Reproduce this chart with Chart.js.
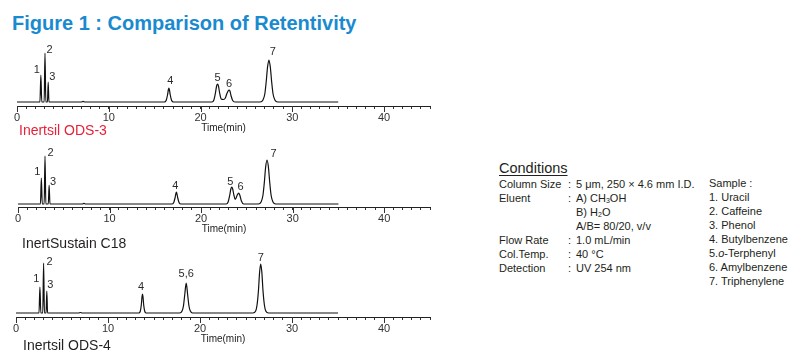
<!DOCTYPE html>
<html>
<head>
<meta charset="utf-8">
<script src="https://cdn.jsdelivr.net/npm/chart.js@4.4.1/dist/chart.umd.min.js"></script>
<style>
  html, body { margin:0; padding:0; background:#fff; }
  #root { position:relative; width:808px; height:356px; overflow:hidden; font-family:"Liberation Sans", Arial, sans-serif; color:#231f20; }
  canvas { position:absolute; left:0; }
  .t { position:absolute; white-space:nowrap; }
  .title { left:12px; top:10px; font-size:20px; font-weight:bold; color:#1a8ad0; line-height:26px; }
  .col { font-size:14px; line-height:18px; }
  .cond { font-size:11px; line-height:14px; color:#231f20; }
  sub { font-size:7px; vertical-align:-1px; line-height:0; }
</style>
</head>
<body>
<div id="root">
  <div class="t title">Figure 1 : Comparison of Retentivity</div>
  <canvas id="c0" width="440" height="98" style="top:36px"></canvas>
  <canvas id="c1" width="440" height="95" style="top:140px"></canvas>
  <canvas id="c2" width="440" height="95" style="top:250px"></canvas>
  <div class="t col" style="left:19px; top:121px; color:#e62139;">Inertsil ODS-3</div>
  <div class="t col" style="left:22px; top:234px;">InertSustain C18</div>
  <div class="t col" style="left:23px; top:336px;">Inertsil ODS-4</div>

  <div class="t" style="left:499px; top:159px; font-size:14.5px; line-height:18px; text-decoration:underline; text-underline-offset:2px;">Conditions</div>
  <div class="t cond" style="left:499px; top:177px;">Column Size<br>Eluent<br><br><br>Flow Rate<br>Col.Temp.<br>Detection</div>
  <div class="t cond" style="left:568px; top:177px;">:<br>:<br><br><br>:<br>:<br>:</div>
  <div class="t cond" style="left:576px; top:177px;">5 μm, 250 × 4.6 mm I.D.<br>A) CH<sub>3</sub>OH<br>B) H<sub>2</sub>O<br>A/B= 80/20, v/v<br>1.0 mL/min<br>40 °C<br>UV 254 nm</div>
  <div class="t cond" style="left:709px; top:176px;">Sample :<br>1. Uracil<br>2. Caffeine<br>3. Phenol<br>4. Butylbenzene<br>5.<i>o</i>-Terphenyl<br>6. Amylbenzene<br>7. Triphenylene</div>
</div>
<script>
// ---- data ----
const columns = ['Inertsil ODS-3', 'InertSustain C18', 'Inertsil ODS-4'];
const xTickValues = [0, 10, 20, 30, 40];
const xTickLabels = ['0', '10', '20', '30', '40'];

// Inertsil ODS-3 trace: time (min) / signal
const ods3Time = [0, 2.5, 2.6, 2.7, 2.96, 3.05, 3.14, 3.32, 3.4, 3.48, 7.0, 7.2, 7.4,
  16.05, 16.25, 16.4, 16.5, 16.55, 16.6, 16.7, 16.85, 17.05,
  21.25, 21.45, 21.62, 21.75, 21.85, 21.95, 22.08, 22.25,
  22.5, 22.7, 22.85, 23.0, 23.1, 23.2, 23.33, 23.5, 23.75,
  26.5, 26.8, 27.0, 27.15, 27.3, 27.45, 27.6, 27.75, 27.9, 28.1, 28.4, 35];
const ods3Signal = [0, 0, 27, 0, 0, 49, 0, 0, 20, 0, 0, 0.7, 0,
  0, 1.5, 7, 12.5, 14, 12.5, 7, 1.5, 0,
  0, 2, 9, 16, 18, 16, 9, 3,
  2.5, 4, 8, 11, 12, 11, 6, 1.5, 0,
  0, 2, 8, 20, 35, 42, 35, 20, 8, 2, 0, 0];
const ods3PeakNames = ['1', '2', '3', '4', '5', '6', '7'];
const ods3PeakTime = [2.6, 3.05, 3.4, 16.55, 21.85, 23.1, 27.45];
const ods3PeakHeight = [27, 49, 20, 14, 18, 12, 42];

// InertSustain C18 trace
const c18Time = [0, 2.45, 2.55, 2.65, 2.86, 2.95, 3.04, 3.31, 3.4, 3.49, 7.0, 7.2, 7.4,
  16.8, 17.0, 17.15, 17.25, 17.3, 17.35, 17.45, 17.6, 17.8,
  22.75, 22.95, 23.12, 23.25, 23.35, 23.45, 23.58, 23.72,
  23.95, 24.1, 24.22, 24.4, 24.65,
  26.25, 26.55, 26.75, 26.9, 27.05, 27.2, 27.35, 27.5, 27.65, 27.85, 28.15, 35];
const c18Signal = [0, 0, 26, 0, 0, 48, 0, 0, 19, 0, 0, 0.6, 0,
  0, 1.3, 6, 10.7, 12, 10.7, 6, 1.3, 0,
  0, 2, 8.5, 15, 17, 15, 9, 4.5,
  9, 11, 9, 3, 0,
  0, 2, 8.5, 21, 37, 44, 37, 21, 8.5, 2, 0, 0];
const c18PeakNames = ['1', '2', '3', '4', '5', '6', '7'];
const c18PeakTime = [2.55, 2.95, 3.4, 17.3, 23.35, 24.1, 27.2];
const c18PeakHeight = [26, 48, 19, 12, 17, 11, 44];

// Inertsil ODS-4 trace
const ods4Time = [0, 2.5, 2.6, 2.7, 2.91, 3.0, 3.09, 3.27, 3.35, 3.43, 6.8, 7.0, 7.2,
  13.35, 13.5, 13.62, 13.7, 13.75, 13.8, 13.88, 14.0, 14.15,
  17.8, 18.05, 18.2, 18.35, 18.5, 18.65, 18.8, 18.95, 19.2,
  25.75, 26.05, 26.2, 26.35, 26.48, 26.6, 26.72, 26.85, 27.0, 27.15, 27.45, 35];
const ods4Signal = [0, 0, 26, 0, 0, 50, 0, 0, 22, 0, 0, 0.5, 0,
  0, 1.5, 8, 16.5, 19, 16.5, 8, 1.5, 0,
  0, 2, 7, 19, 30, 19, 7, 2, 0,
  0, 2, 8, 22, 41, 49, 41, 22, 8, 2, 0, 0];
const ods4PeakNames = ['1', '2', '3', '4', '5,6', '7'];
const ods4PeakTime = [2.6, 3.0, 3.35, 13.75, 18.5, 26.6];
const ods4PeakHeight = [26, 50, 22, 19, 30, 49];

// ---- styling / layout (not data) ----
const panels = [
  { id: 'c0', time: ods3Time, signal: ods3Signal, names: ods3PeakNames, pt: ods3PeakTime, ph: ods3PeakHeight,
    left: 17, yMin: -4, yMax: 66, axisH: 28,
    offs: [[-4, -5], [4.5, -3], [4, -5], [1.5, -7], [0, -6.5], [0, -6.5], [4, -8]] },
  { id: 'c1', time: c18Time, signal: c18Signal, names: c18PeakNames, pt: c18PeakTime, ph: c18PeakHeight,
    left: 18, yMin: -3, yMax: 64, axisH: 28,
    offs: [[-4, -6], [5.5, -3], [4, -3.5], [-1, -6], [-1.5, -5], [2, -6], [6.5, -6]] },
  { id: 'c2', time: ods4Time, signal: ods4Signal, names: ods4PeakNames, pt: ods4PeakTime, ph: ods4PeakHeight,
    left: 16, yMin: -4, yMax: 63, axisH: 28,
    offs: [[-3.5, -8], [6, -1], [3.5, -6], [-1.5, -7.5], [0, -9], [0, -6]] }
];

const FONT = 'Liberation Sans';

const extras = {
  id: 'extras',
  afterDraw(chart, args, opts) {
    const p = opts.panel;
    const ctx = chart.ctx;
    const xs = chart.scales.x, ys = chart.scales.y;
    ctx.save();
    // longer major ticks
    ctx.strokeStyle = '#333';
    ctx.lineWidth = 1;
    const b = chart.chartArea.bottom;
    xTickValues.forEach(v => {
      const x = Math.round(xs.getPixelForValue(v)) + 0.5;
      ctx.beginPath(); ctx.moveTo(x, b); ctx.lineTo(x, b + 6); ctx.stroke();
    });
    // peak labels
    ctx.fillStyle = '#2b2b2b';
    ctx.font = '11px "' + FONT + '"';
    ctx.textAlign = 'center';
    ctx.textBaseline = 'middle';
    p.names.forEach((n, i) => {
      const x = xs.getPixelForValue(p.pt[i]) + p.offs[i][0];
      const y = ys.getPixelForValue(p.ph[i]) + p.offs[i][1];
      ctx.fillText(n, x, y);
    });
    ctx.restore();
  }
};

panels.forEach((p, k) => {
  const pts = p.time.map((t, i) => ({ x: t, y: p.signal[i] }));
  new Chart(document.getElementById(p.id), {
    type: 'line',
    data: { datasets: [{ label: columns[k], data: pts, borderColor: '#111', borderWidth: 1.2,
      pointRadius: 0, cubicInterpolationMode: 'monotone', fill: false }] },
    options: {
      responsive: false, animation: false, devicePixelRatio: 1,
      layout: { padding: { left: p.left, right: 10, top: 0, bottom: 0 } },
      plugins: { legend: { display: false }, tooltip: { enabled: false }, extras: { panel: p } },
      scales: {
        x: {
          type: 'linear', min: 0, max: 45,
          ticks: { stepSize: 1, autoSkip: false, maxRotation: 0, padding: 2, color: '#333',
            font: { family: FONT, size: 11 },
            callback: (v) => { const j = xTickValues.indexOf(v); return j >= 0 ? xTickLabels[j] : ''; } },
          grid: { drawOnChartArea: false, drawTicks: true, tickLength: 3, tickColor: '#333', tickWidth: 1 },
          border: { display: true, color: '#222', width: 1 },
          title: { display: true, text: 'Time(min)', color: '#222', font: { family: FONT, size: 10 }, padding: { top: 0, bottom: 0 } },
          afterFit: (s) => { s.height = p.axisH; }
        },
        y: { display: false, min: p.yMin, max: p.yMax }
      }
    },
    plugins: [extras]
  });
});
</script>
</body>
</html>
